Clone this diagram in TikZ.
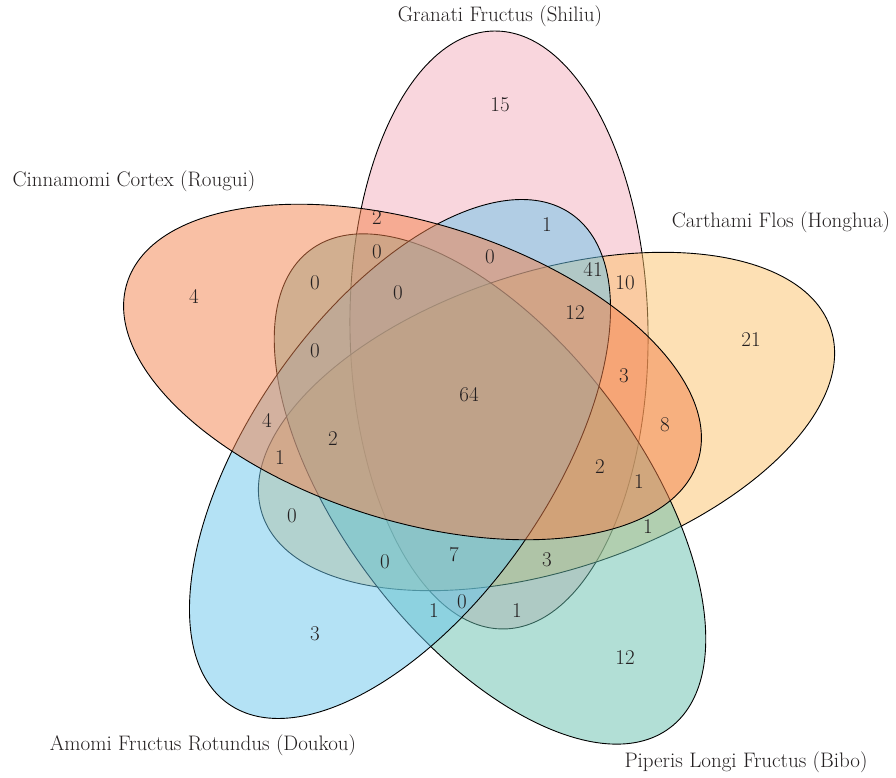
\documentclass[tikz,border=0pt]{standalone}
\usepackage{amsmath,amssymb}

\definecolor{shiliu}{RGB}{243,173,187}
\definecolor{rougui}{RGB}{243,129,75}
\definecolor{honghua}{RGB}{251,193,105}
\definecolor{doukou}{RGB}{105,197,235}
\definecolor{bibo}{RGB}{101,191,173}
\definecolor{txt}{RGB}{35,31,32}

\begin{document}
\begin{tikzpicture}[x=1pt, y=1pt, every node/.style={font=\fontsize{21}{24}\selectfont, text=txt},
    set/.style={draw=black, line width=0.9pt, fill opacity=0.5, draw opacity=1}]

    \useasboundingbox (0,0) rectangle (896,778);

    %ellipses
    \path[set, fill=shiliu, shift={(499,448)}, rotate=91] (0,0) ellipse [x radius=299pt, y radius=149pt];
    \path[set, fill=honghua, shift={(546.5,356.5)}, rotate=18] (0,0) ellipse [x radius=299pt, y radius=149pt];
    \path[set, fill=bibo, shift={(490,289)}, rotate=-53] (0,0) ellipse [x radius=299pt, y radius=149pt];
    \path[set, fill=doukou, shift={(400,319)}, rotate=55] (0,0) ellipse [x radius=299pt, y radius=149pt];
    \path[set, fill=rougui, shift={(412.5,406)}, rotate=-17.3] (0,0) ellipse [x radius=299pt, y radius=149pt];

    %names
    \node (granati) at (500,762) {Granati Fructus (Shiliu)};
    \node (cinnamomi) at (134,597) {Cinnamomi Cortex (Rougui)};
    \node (carthami) at (781,556) {Carthami Flos (Honghua)};
    \node (amomi) at (203,33) {Amomi Fructus Rotundus (Doukou)};
    \node (piperis) at (746,16) {Piperis Longi Fructus (Bibo)};

    %outer counts
    \node (a15) at (500,673) {15};
    \node (a4) at (194,482) {4};
    \node (a21) at (751,438) {21};
    \node (a3) at (315,144) {3};
    \node (a12) at (625,120) {12};

    %top
    \node (b2) at (377,560) {2};
    \node (b1) at (547,553) {1};
    \node (b0a) at (377,526) {0};
    \node (b0b) at (490,521) {0};
    \node (b41) at (593,509) {41};
    \node (b10) at (625,495) {10};
    \node (b0c) at (315,495) {0};
    \node (b0d) at (398,485) {0};
    \node (b12) at (575,465) {12};

    %middle
    \node (c0) at (315,427) {0};
    \node (c64) at (469,383) {64};
    \node (c3) at (624,402) {3};
    \node (c4) at (267,358) {4};
    \node (c2a) at (333,339) {2};
    \node (c8) at (665,353) {8};
    \node (c1a) at (280,320) {1};
    \node (c2b) at (600,311) {2};
    \node (c1b) at (639,296) {1};

    %bottom
    \node (d0a) at (292,262) {0};
    \node (d1a) at (648,251) {1};
    \node (d7) at (454,223) {7};
    \node (d0b) at (385,216) {0};
    \node (d3) at (547,218) {3};
    \node (d1b) at (434,167) {1};
    \node (d0c) at (462,176) {0};
    \node (d1c) at (517,167) {1};
\end{tikzpicture}
\end{document}
